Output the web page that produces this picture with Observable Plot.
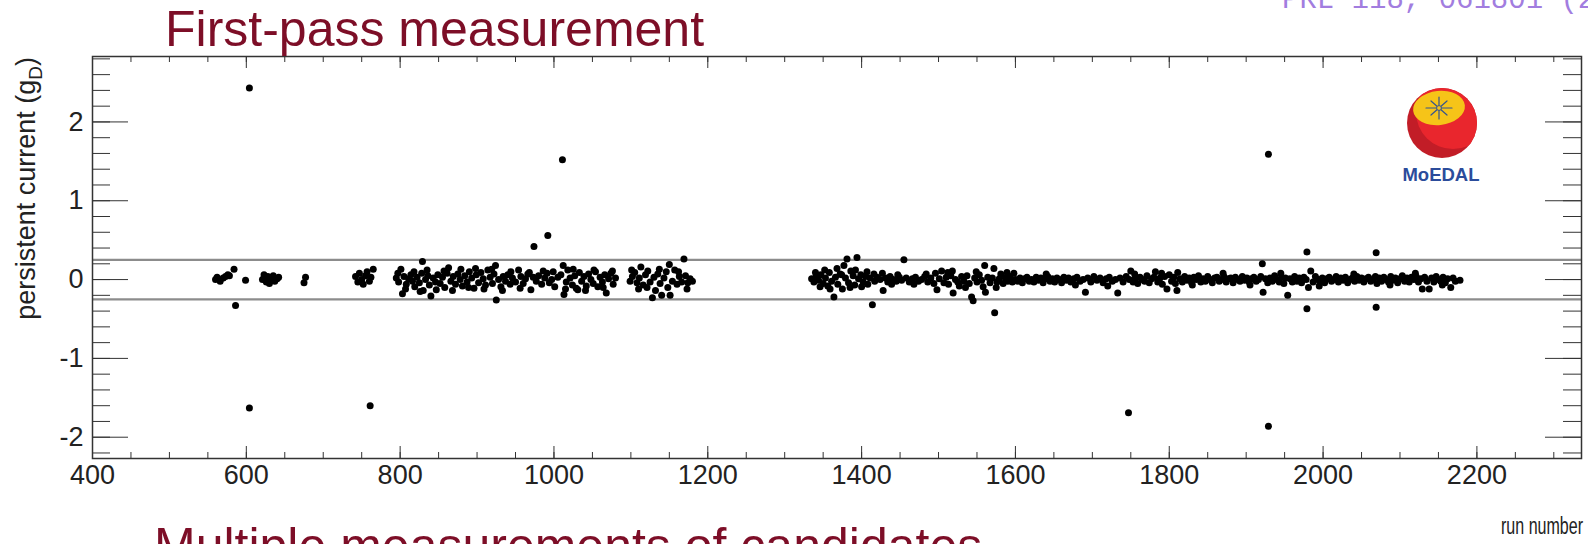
<!DOCTYPE html>
<html>
<head>
<meta charset="utf-8">
<script src="https://cdn.jsdelivr.net/npm/d3@7"></script>
<script src="https://cdn.jsdelivr.net/npm/@observablehq/plot@0.6"></script>
<style>
html, body { margin: 0; padding: 0; background: #fff; }
#wrap { position: relative; width: 1588px; height: 544px; overflow: hidden; }
#wrap > svg { position: absolute; left: 0; top: 0; }
</style>
</head>
<body>
<div id="wrap"></div>
<script>
// ---- Axis settings (values) ----
const xDomain = [400, 2336];
const yDomain = [-2.27, 2.83];
const xTicks = [400, 600, 800, 1000, 1200, 1400, 1600, 1800, 2000, 2200];
const yTicks = [-2, -1, 0, 1, 2];
const bandEdges = [-0.25, 0.25];

// ---- Data: [run number, persistent current (g_D)] ----
const earlyRuns = [560,562,566,570,573,576,578,584,599,621,623,626,628,630,632,635,637,640,642,675,677,742,745,747,750,752,755,757,760,762,765];
const earlyVals = [0.0,0.03,-0.02,0.02,0.04,0.06,0.05,0.13,-0.01,0.0,0.06,-0.03,0.04,-0.05,0.02,0.05,-0.02,0.01,0.03,-0.04,0.03,0.04,-0.03,0.08,0.0,-0.06,0.05,0.1,-0.02,0.03,0.13];

const block1 = [[795,0.02],[798,-0.03],[801,0.13],[803,-0.18],[805,0.04],[808,-0.06],[811,0.01],[814,0.06],[816,-0.02],[819,-0.09],[822,0.03],[825,-0.04],[828,0.08],[829,0.23],[830,-0.14],[833,0.0],[836,0.05],[838,-0.07],[840,-0.21],[843,0.02],[846,-0.03],[849,0.06],[852,-0.05],[855,0.03],[858,-0.1],[861,0.08],[863,0.15],[866,-0.02],[869,0.04],[872,-0.06],[875,0.07],[878,0.0],[881,-0.08],[884,0.05],[887,-0.03],[890,0.1],[893,0.02],[896,-0.11],[899,0.06],[902,-0.04],[905,0.09],[908,0.01],[911,-0.07],[914,0.12],[917,0.03],[920,-0.05],[922,0.07],[924,0.18],[925,-0.26],[928,0.0],[931,-0.09],[934,0.04],[937,-0.02],[940,0.06],[943,-0.06],[946,0.02],[950,-0.03],[954,0.12],[957,0.04],[960,-0.05],[963,0.01],[966,0.07],[970,-0.13],[973,0.03],[977,-0.02],[980,0.05],[984,-0.06],[988,0.02],[991,0.08],[994,-0.04],[997,0.0],[1001,-0.09],[1005,0.03],[1009,0.06],[1012,0.18],[1013,-0.19],[1016,-0.03],[1018,0.12],[1021,0.02],[1024,-0.07],[1027,0.05],[1029,-0.11],[1031,-0.13],[1033,0.09],[1036,-0.02],[1039,0.04],[1042,-0.08],[1045,0.07],[1048,0.0],[1051,-0.05],[1054,0.1],[1057,-0.09],[1060,0.03],[1063,-0.03],[1066,0.06],[1068,-0.17],[1071,0.01],[1074,0.08],[1077,-0.06],[1080,0.02],[1099,-0.02],[1102,0.04],[1105,0.09],[1108,-0.04],[1111,0.02],[1113,0.16],[1116,-0.07],[1119,0.06],[1122,0.11],[1125,-0.03],[1128,-0.23],[1130,0.03],[1132,-0.14],[1135,0.07],[1138,-0.05],[1140,-0.2],[1143,0.02],[1146,0.1],[1150,0.19],[1151,-0.2],[1154,-0.02],[1157,0.12],[1160,-0.06],[1163,0.04],[1166,-0.03],[1169,0.26],[1171,0.05],[1174,-0.04],[1177,0.01],[1180,-0.02]];
const block1Extra = [[797,0.08],[807,-0.12],[818,0.1],[826,-0.15],[835,0.12],[847,-0.13],[857,0.11],[868,-0.14],[879,0.13],[889,-0.1],[898,0.14],[909,-0.12],[919,0.13],[933,-0.14],[944,0.1],[956,-0.11],[968,0.09],[986,0.11],[999,0.1],[1015,-0.12],[1025,0.13],[1041,-0.14],[1052,0.12],[1064,-0.1],[1076,0.11],[1101,0.12],[1110,-0.12],[1121,-0.1],[1137,0.13],[1148,-0.1],[1162,0.1],[1173,-0.12]];

const block2 = [[1335,0.01],[1338,-0.03],[1341,0.04],[1344,-0.01],[1347,0.06],[1350,-0.05],[1353,0.02],[1356,-0.08],[1358,0.09],[1361,-0.02],[1364,-0.22],[1366,0.03],[1369,-0.06],[1372,0.07],[1375,-0.12],[1377,0.18],[1379,0.02],[1381,0.26],[1383,-0.04],[1386,0.11],[1389,0.05],[1391,-0.07],[1394,0.28],[1396,0.01],[1399,0.06],[1402,-0.03],[1405,0.04],[1408,-0.06],[1411,0.02],[1414,-0.32],[1417,-0.02],[1420,0.03],[1424,0.0],[1427,0.08],[1428,-0.14],[1431,0.02],[1434,-0.03],[1437,0.04],[1441,0.0],[1445,-0.02],[1449,0.03],[1452,-0.01],[1455,0.25],[1458,0.02],[1462,-0.03],[1466,0.01],[1470,0.03],[1474,-0.02],[1478,0.0],[1482,0.04],[1486,-0.03],[1490,0.02],[1494,-0.05],[1498,-0.13],[1501,0.01],[1504,0.11],[1507,-0.04],[1510,0.03],[1513,-0.06],[1516,0.05],[1518,0.11],[1519,-0.17],[1522,0.0],[1525,-0.03],[1527,-0.08],[1530,0.04],[1533,-0.02],[1537,0.05],[1540,-0.05],[1543,-0.22],[1545,-0.27],[1547,0.02],[1550,-0.03],[1553,0.06],[1556,-0.01],[1560,0.18],[1561,-0.16],[1564,0.03],[1567,-0.04],[1570,0.02],[1572,0.14],[1573,-0.42],[1576,-0.03],[1579,0.01],[1581,0.07],[1584,-0.05],[1587,0.02],[1590,-0.02],[1593,0.04],[1596,-0.03],[1598,0.08],[1600,0.0]];
const block2Extra = [[1340,0.09],[1346,-0.09],[1352,0.12],[1359,-0.12],[1368,0.14],[1374,0.06],[1385,-0.1],[1392,0.12],[1400,-0.09],[1407,0.1],[1416,0.07],[1439,-0.06],[1447,0.06],[1468,-0.06],[1484,0.07],[1496,0.08],[1512,0.09],[1535,-0.1],[1549,0.1],[1558,-0.09],[1575,-0.1],[1589,0.09]];

const block3 = [[1603,-0.02],[1606,0.02],[1609,-0.04],[1612,0.01],[1615,0.03],[1618,-0.02],[1621,0.0],[1624,-0.03],[1627,0.03],[1630,-0.01],[1633,0.02],[1636,-0.04],[1639,0.01],[1642,0.04],[1645,-0.02],[1648,0.01],[1651,-0.03],[1654,0.02],[1657,0.0],[1660,-0.04],[1663,0.03],[1666,-0.01],[1669,0.02],[1672,-0.03],[1676,0.01],[1680,0.03],[1684,-0.02],[1688,0.0],[1691,-0.16],[1694,0.02],[1698,-0.03],[1702,0.04],[1706,-0.01],[1710,0.02],[1714,-0.04],[1718,0.01],[1722,0.03],[1726,-0.02],[1730,0.0],[1733,-0.17],[1736,0.02],[1740,-0.03],[1744,0.04],[1748,0.0],[1750,0.11],[1753,-0.03],[1756,0.02],[1759,-0.05],[1762,0.03],[1765,0.0],[1768,-0.02],[1771,0.05],[1774,-0.04],[1777,0.01],[1780,0.03],[1782,0.1],[1785,-0.03],[1788,0.02],[1791,-0.06],[1794,0.04],[1797,-0.12],[1800,0.06],[1803,-0.02],[1806,0.03],[1808,-0.05],[1810,-0.14],[1811,0.09],[1814,0.01],[1817,-0.03],[1820,0.04],[1823,-0.01],[1826,0.02],[1829,-0.04],[1832,0.03],[1835,0.0],[1838,0.05],[1841,-0.03],[1844,0.01],[1847,-0.02],[1850,0.04],[1853,0.0],[1856,-0.04],[1859,0.02],[1862,0.03],[1865,-0.02],[1868,0.0],[1871,0.04],[1874,-0.03],[1877,0.01],[1880,0.02],[1883,-0.04],[1886,0.03],[1889,0.0],[1892,-0.02],[1895,0.04],[1898,-0.01],[1901,0.02],[1904,-0.03],[1907,0.01],[1910,0.03],[1913,-0.02],[1916,0.0],[1919,0.04],[1921,0.2],[1922,-0.16],[1925,0.01],[1928,-0.04],[1931,0.02],[1934,-0.02],[1937,0.05],[1940,0.0],[1943,-0.03],[1946,0.03],[1949,-0.05],[1951,0.02],[1954,-0.2],[1957,0.01],[1960,-0.03],[1963,0.04],[1966,-0.02],[1969,0.02],[1972,-0.04],[1975,0.03],[1978,0.0],[1981,-0.1],[1984,0.11],[1987,-0.03],[1990,0.04],[1993,0.0],[1996,-0.03],[1999,0.02],[2002,-0.04],[2005,0.01],[2008,0.03],[2011,-0.02],[2014,0.0],[2017,0.04],[2020,-0.03],[2023,0.02],[2026,-0.01],[2029,0.03],[2032,-0.04],[2035,0.0],[2038,0.02],[2041,-0.02],[2044,0.04],[2047,-0.01],[2050,0.02],[2053,-0.03],[2056,0.01],[2059,0.03],[2062,-0.02],[2065,0.0],[2068,0.04],[2070,-0.05],[2073,0.02],[2076,-0.02],[2079,0.03],[2082,0.0],[2085,-0.03],[2088,0.04],[2091,-0.01],[2094,0.02],[2097,-0.04],[2100,0.01],[2103,0.05],[2106,-0.02],[2109,0.02],[2112,-0.03],[2115,0.03],[2118,0.0],[2121,0.04],[2124,-0.03],[2127,0.01],[2129,-0.12],[2132,0.03],[2135,-0.02],[2138,-0.12],[2141,0.02],[2144,-0.03],[2147,0.04],[2150,0.0],[2153,-0.02],[2156,0.03],[2159,-0.04],[2162,0.01],[2166,-0.1],[2169,0.02],[2172,-0.02],[2178,-0.01]];
const block3Extra = [[1640,0.07],[1678,-0.07],[1720,-0.08],[1755,0.07],[1790,0.08],[1830,-0.07],[1870,0.08],[1905,-0.07],[1945,0.08],[1995,-0.08],[2040,0.07],[2087,-0.07],[2120,0.08],[2155,-0.07]];

const outlierRuns = [586, 604, 604, 761, 974, 992, 1011, 1747, 1929, 1929, 1979, 1979, 2069, 2069];
const outlierVals = [-0.33, 2.43, -1.63, -1.60, 0.42, 0.56, 1.52, -1.69, 1.59, -1.86, 0.35, -0.37, 0.34, -0.35];

// ---- Build table ----
const pairRow = ([r, v]) => ({run: r, value: v});
const points = [
  ...earlyRuns.map((r, i) => ({run: r, value: earlyVals[i]})),
  ...block1.map(pairRow), ...block1Extra.map(pairRow),
  ...block2.map(pairRow), ...block2Extra.map(pairRow),
  ...block3.map(pairRow), ...block3Extra.map(pairRow),
  ...outlierRuns.map((r, i) => ({run: r, value: outlierVals[i]}))
];

const W = 1588, H = 544;
const mT = 56, mR = 7, mB = 86, mL = 92;
const innerW = W - mL - mR, innerH = H - mT - mB;
const xMinor = d3.range(xDomain[0], xDomain[1] + 1, 50);
const yMinor = d3.range(-22, 29, 2).map(d => d / 10);
const ink = "#333";

const chart = Plot.plot({
  width: W, height: H,
  marginTop: mT, marginRight: mR, marginBottom: mB, marginLeft: mL,
  x: {domain: xDomain, label: null},
  y: {domain: yDomain, label: null},
  style: {fontFamily: "'Liberation Sans', Arial, Helvetica, sans-serif", fontSize: "27px", background: "transparent", color: "#222", overflow: "visible"},
  marks: [
    Plot.ruleY(bandEdges, {y: d => d, stroke: "#8c8c8c", strokeWidth: 2.2}),
    Plot.dot(points, {x: "run", y: "value", r: 3.5, fill: "#000", stroke: null}),
    // minor & major ticks on all four sides (ROOT style, pointing inward)
    Plot.tickX(xMinor, {x: d => d, insetTop: innerH - 6, stroke: ink}),
    Plot.tickX(xMinor, {x: d => d, insetBottom: innerH - 6, stroke: ink}),
    Plot.tickX(xTicks, {x: d => d, insetTop: innerH - 12, stroke: ink}),
    Plot.tickX(xTicks, {x: d => d, insetBottom: innerH - 12, stroke: ink}),
    Plot.tickY(yMinor, {y: d => d, insetRight: innerW - 18, stroke: ink}),
    Plot.tickY(yMinor, {y: d => d, insetLeft: innerW - 18, stroke: ink}),
    Plot.tickY(yTicks, {y: d => d, insetRight: innerW - 36, stroke: ink}),
    Plot.tickY(yTicks, {y: d => d, insetLeft: innerW - 36, stroke: ink}),
    Plot.axisX(xTicks, {tickSize: 0, tickPadding: 6, fontSize: 27, tickFormat: d => String(d), fill: "#222"}),
    Plot.axisY(yTicks, {tickSize: 0, tickPadding: 9, fontSize: 27, tickFormat: d => String(d), fill: "#222"}),
    Plot.frame({stroke: ink, strokeWidth: 1.5})
  ]
});

const wrap = document.getElementById("wrap");
wrap.appendChild(chart);

// ---- Overlay: titles, axis titles, logo ----
const ns = "http://www.w3.org/2000/svg";
const ov = document.createElementNS(ns, "svg");
ov.setAttribute("width", W);
ov.setAttribute("height", H);
ov.innerHTML = `
  <text x="165" y="46" font-family="'Liberation Sans', Arial, sans-serif" font-size="50" fill="#7d0e27">First-pass measurement</text>
  <text x="1282" y="8" font-family="'Liberation Mono', 'DejaVu Sans Mono', monospace" font-size="29" fill="#a27ddf">PRL 118, 061801 (2017)</text>
  <text x="154" y="563" font-family="'Liberation Sans', Arial, sans-serif" font-size="50" fill="#7d0e27">Multiple measurements of candidates</text>
  <text x="1583" y="534" text-anchor="end" textLength="82" lengthAdjust="spacingAndGlyphs" font-family="'Liberation Sans', Arial, sans-serif" font-size="23" fill="#222">run number</text>
  <text transform="translate(35,57) rotate(-90)" text-anchor="end" font-family="'Liberation Sans', Arial, sans-serif" font-size="27" fill="#222"><tspan>persistent current (g</tspan><tspan dy="7" font-size="19">D</tspan><tspan dy="-7">)</tspan></text>
  <defs><clipPath id="logoClip"><circle cx="1442" cy="123" r="35"/></clipPath></defs>
  <circle cx="1442" cy="123" r="35" fill="#c21d27"/>
  <circle cx="1453" cy="112" r="37" fill="#e9262d" clip-path="url(#logoClip)"/>
  <ellipse cx="1439" cy="108" rx="26" ry="17" fill="#f6c418" transform="rotate(-6 1439 108)"/>
  <g stroke="#35548f" stroke-width="1.2" stroke-linecap="round">
    <line x1="1439" y1="97" x2="1439" y2="119"/>
    <line x1="1426" y1="108" x2="1452" y2="108"/>
    <line x1="1431" y1="101" x2="1447" y2="115"/>
    <line x1="1447" y1="101" x2="1431" y2="115"/>
  </g>
  <circle cx="1439" cy="108" r="2.4" fill="#f6c418" stroke="#35548f" stroke-width="1"/>
  <text x="1441" y="181" text-anchor="middle" font-family="'Liberation Sans', Arial, sans-serif" font-weight="bold" font-size="18.5" fill="#2b4c9b">MoEDAL</text>
`;
wrap.appendChild(ov);
</script>
</body>
</html>
